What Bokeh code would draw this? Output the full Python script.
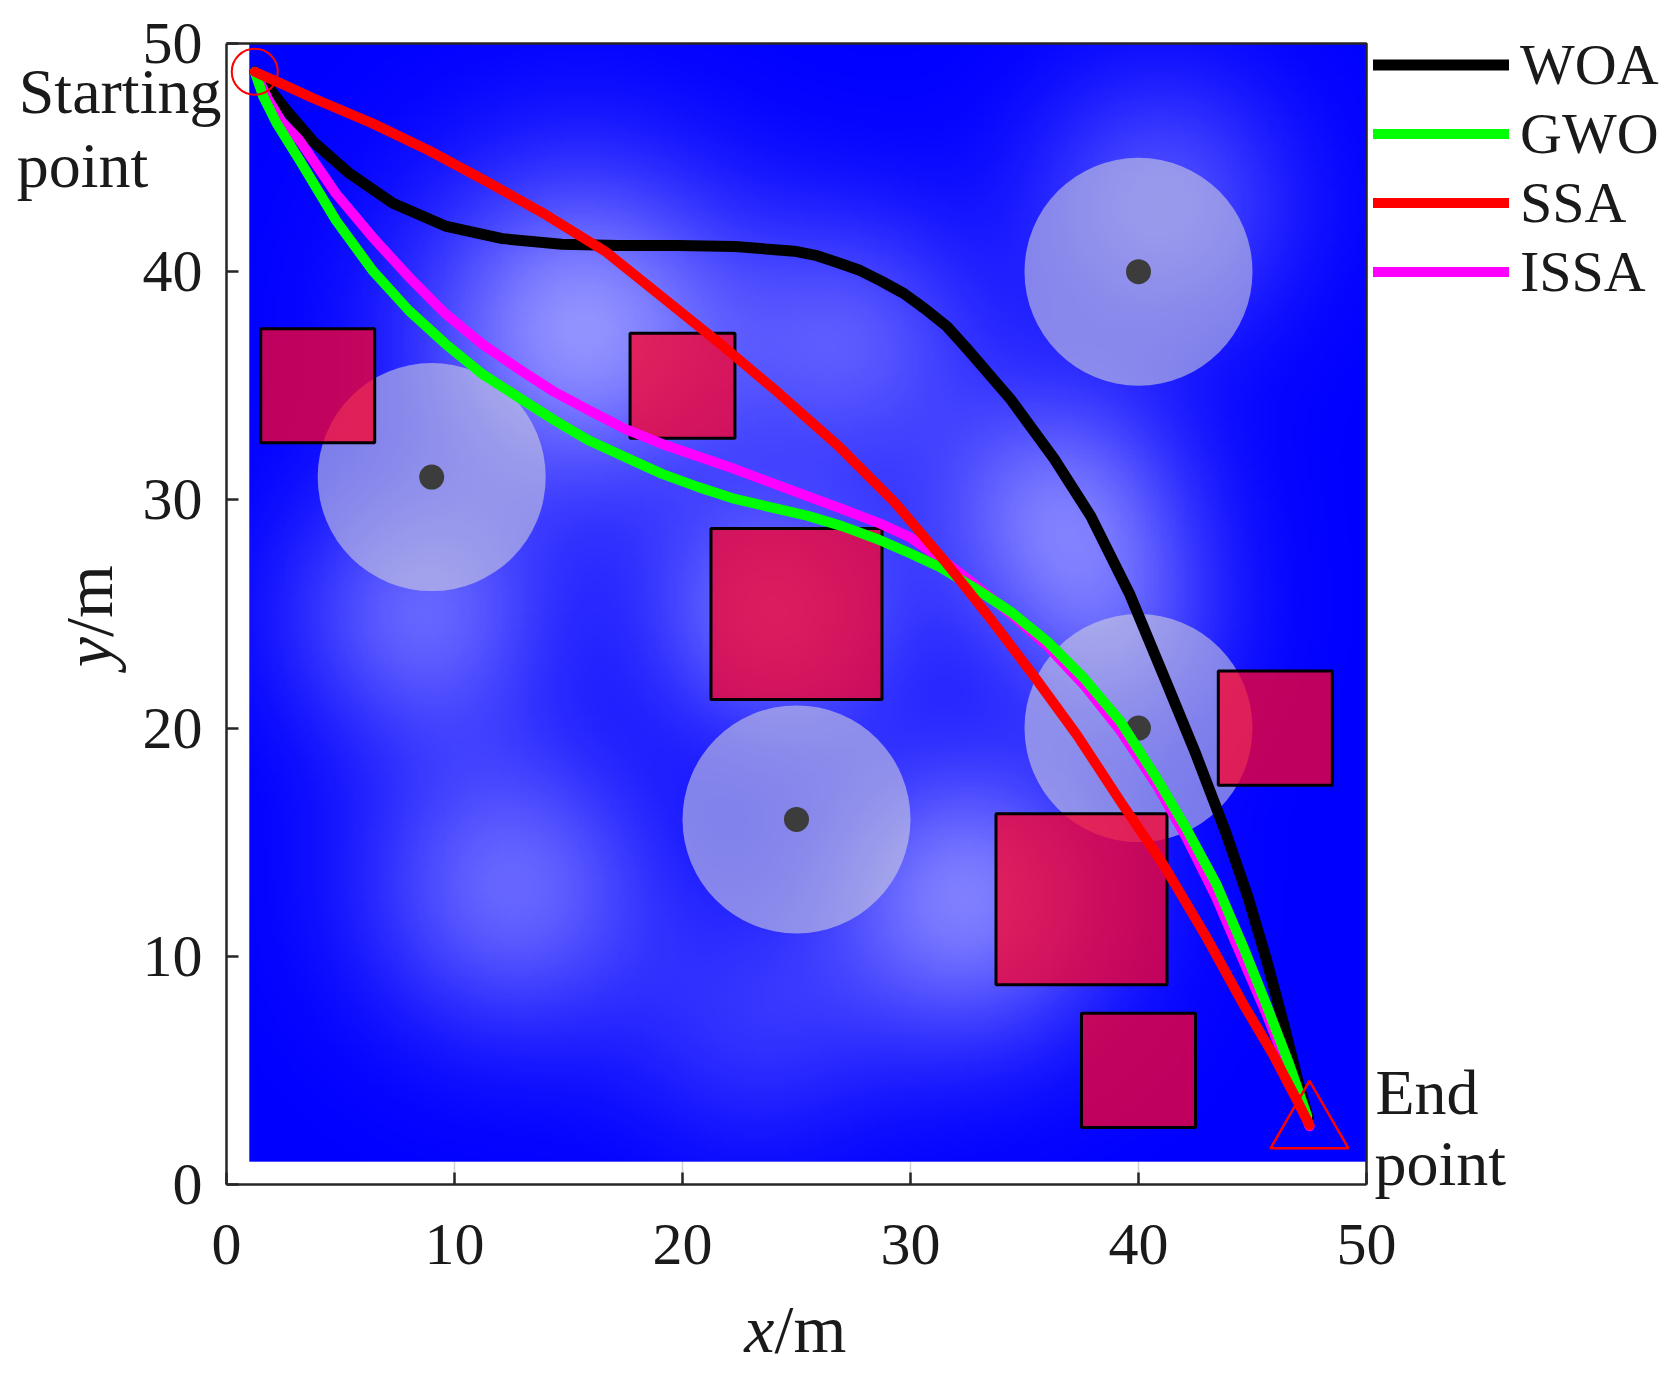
import numpy as np
from bokeh.plotting import figure
from bokeh.models import Legend, LegendItem, Range1d, FixedTicker
from bokeh.core.properties import value
from bokeh.embed import file_html
from bokeh.resources import INLINE

# ---------------- data ----------------
x_ticks = [0, 10, 20, 30, 40, 50]
y_ticks = [0, 10, 20, 30, 40, 50]

start_pt = (1.24, 48.76)
end_pt = (47.5, 2.57)

# threat zones (circles)
zone_x = [9, 40, 40, 25]
zone_y = [31, 40, 20, 16]
zone_r = [5, 5, 5, 5]

# obstacles (squares)
obs_x = [4, 20, 25, 46, 37.5, 40]
obs_y = [35, 35, 25, 20, 12.5, 5]
obs_size = [5, 4.6, 7.5, 5, 7.5, 5]

# terrain glow spots (background)
glow_x = [15.5, 27.5, 36.5, 32.5, 12.5, 8.5, 24, 41, 23, 39]
glow_y = [37.5, 37, 29.5, 12.5, 13, 25, 25, 43, 7, 24]
glow_r = [5.0, 4.0, 4.0, 4.5, 4.5, 4.0, 4.0, 4.0, 4.0, 3.5]
glow_a = [0.6, 0.33, 0.46, 0.52, 0.42, 0.4, 0.45, 0.32, 0.18, 0.25]

woa_x = [1.24, 1.9, 2.6, 3.8, 5.4, 7.3, 9.6, 12.1, 14.7, 17.2, 19.8, 22.3, 24.9, 25.9,
         26.8, 27.8, 28.7, 29.7, 30.6, 31.6, 32.5, 34.4, 36.3, 37.9, 39.6, 41.1, 42.5,
         43.8, 44.8, 45.6, 46.4, 47.0, 47.45]
woa_y = [48.76, 48.0, 47.1, 45.7, 44.3, 43.0, 42.0, 41.45, 41.2, 41.15, 41.15, 41.1, 40.9,
         40.7, 40.4, 40.05, 39.6, 39.05, 38.4, 37.6, 36.6, 34.4, 31.8, 29.3, 25.9, 22.3,
         18.9, 15.5, 12.6, 9.9, 6.9, 4.5, 2.9]

gwo_x = [1.24, 1.6, 2.2, 3.2, 4.8, 6.4, 8.0, 9.6, 11.2, 12.8, 14.4, 15.9, 17.5, 19.1, 20.7,
         22.3, 25.5, 27.0, 28.5, 30.0, 31.3, 32.8, 34.4, 36.0, 37.6, 39.2, 40.8, 42.1, 43.4,
         44.6, 45.6, 46.6, 47.4]
gwo_y = [48.76, 47.7, 46.5, 44.9, 42.25, 40.06, 38.3, 36.84, 35.53, 34.5, 33.48, 32.6,
         31.87, 31.14, 30.56, 30.04, 29.3, 28.85, 28.3, 27.65, 27.05, 26.15, 25.1, 23.8,
         22.2, 20.3, 17.8, 15.6, 13.2, 10.4, 7.9, 5.3, 3.0]

ssa_x = [1.24, 2.5, 3.8, 6.4, 8.9, 11.5, 14.0, 16.6, 19.1, 21.7, 24.2, 26.8, 29.3, 31.6,
         33.5, 35.4, 37.3, 39.2, 41.1, 43.0, 44.6, 45.9, 47.0, 47.5]
ssa_y = [48.76, 48.2, 47.6, 46.5, 45.3, 43.9, 42.5, 40.9, 38.9, 36.8, 34.7, 32.4, 29.9,
         27.2, 24.8, 22.3, 19.7, 16.8, 14.0, 10.8, 7.9, 5.7, 3.6, 2.6]

issa_x = [1.24, 1.8, 2.4, 3.2, 4.8, 6.4, 8.0, 9.6, 11.2, 12.8, 14.4, 15.9, 17.5, 19.1, 20.7,
          22.3, 25.0, 27.0, 28.7, 30.0, 31.3, 32.8, 34.4, 36.0, 37.6, 39.2, 40.8, 42.1,
          43.4, 44.6, 45.6, 46.6, 47.5]
issa_y = [48.76, 47.6, 46.6, 45.76, 43.42, 41.52, 39.77, 38.16, 36.84, 35.75, 34.72, 33.92,
          33.1, 32.45, 31.9, 31.35, 30.34, 29.6, 28.95, 28.35, 27.45, 26.3, 25.0, 23.6,
          21.9, 19.9, 17.5, 15.2, 12.6, 9.8, 7.5, 5.0, 2.55]

series_names = ["WOA", "GWO", "SSA", "ISSA"]
series_colors = ["#000000", "#00FF00", "#FF0000", "#FF00FF"]

# ---------------- layout geometry (pixels) ----------------
W, H = 1670, 1376
LEFT, TOP = 226, 43          # canvas px to the x=0 axis / y=top axis
BOX_W, BOX_H = 1140, 1141    # px spanned by the 0..50 axes
x0, x1 = x_ticks[0], x_ticks[-1]
y0, y1 = y_ticks[0], y_ticks[-1]
x_end = x0 + (x1 - x0) * (W - LEFT) / BOX_W       # frame extends right (legend area)
y_end = y1 + (y1 - y0) * TOP / BOX_H              # frame extends to canvas top

FONT = "Liberation Serif"
TXT = "#1a1a1a"
AX = "#262626"

p = figure(width=W, height=H, x_range=Range1d(x0, x_end), y_range=Range1d(y0, y_end),
           output_backend="svg", toolbar_location=None,
           min_border_left=LEFT, min_border_right=0, min_border_top=0,
           min_border_bottom=H - TOP - BOX_H)
p.background_fill_color = "white"
p.border_fill_color = "white"
p.outline_line_color = None

p.xaxis.ticker = FixedTicker(ticks=x_ticks)
p.yaxis.ticker = FixedTicker(ticks=y_ticks)
p.xaxis.bounds = (x0, x1)
p.yaxis.bounds = (y0, y1)
for ax in (p.xaxis, p.yaxis):
    ax.major_tick_in = 12
    ax.major_tick_out = 0
    ax.minor_tick_line_color = None
    ax.axis_line_width = 2.5
    ax.axis_line_color = AX
    ax.major_tick_line_width = 2.5
    ax.major_tick_line_color = AX
    ax.major_label_text_font = FONT
    ax.major_label_text_font_size = "60px"
    ax.major_label_text_color = TXT
p.xaxis.major_label_standoff = 40
p.yaxis.major_label_standoff = 24
p.xgrid.grid_line_color = "#D0D0D0"
p.xgrid.grid_line_width = 1.5
p.xgrid.level = "image"
p.ygrid.visible = False

# white band above the axes box (hides the grid there)
p.quad(left=x0, right=x_end, bottom=y1, top=y_end, fill_color="white", line_alpha=0,
       level="underlay")

# background terrain image
N = 300
gx = np.linspace(1, 50, N)
GX, GY = np.meshgrid(gx, gx)
L = np.zeros_like(GX)
for cx, cy, r, a in zip(glow_x, glow_y, glow_r, glow_a):
    L += a * np.exp(-((GX - cx) ** 2 + (GY - cy) ** 2) / (2 * r * r))
L = np.clip(L, 0, 0.62)
img = np.empty((N, N), dtype=np.uint32)
view = img.view(dtype=np.uint8).reshape((N, N, 4))
view[..., 0] = (255 * L * 0.95).astype(np.uint8)
view[..., 1] = (255 * L * 0.95).astype(np.uint8)
view[..., 2] = 255
view[..., 3] = 255
p.image_rgba(image=[img], x=1, y=1, dw=49, dh=49)

# threat zones
p.circle(x=zone_x, y=zone_y, radius=zone_r, fill_color="#D8D8DC", fill_alpha=0.55,
         line_alpha=0)
p.scatter(x=zone_x, y=zone_y, size=25, fill_color="#3C3C3C", line_alpha=0)

# obstacles
p.rect(x=obs_x, y=obs_y, width=obs_size, height=obs_size, fill_color="#FF0028",
       fill_alpha=0.75, line_color="#000000", line_width=3)

# paths
lw = {"WOA": 11, "GWO": 10, "SSA": 10, "ISSA": 10}
data = {"WOA": (woa_x, woa_y), "GWO": (gwo_x, gwo_y), "SSA": (ssa_x, ssa_y),
        "ISSA": (issa_x, issa_y)}
colors = dict(zip(series_names, series_colors))
renderers = {}
for name in ["WOA", "ISSA", "GWO", "SSA"]:
    xs, ys = data[name]
    renderers[name] = p.line(xs, ys, line_color=colors[name], line_width=lw[name],
                             line_cap="round", line_join="round")

# start / end markers
p.scatter(x=[start_pt[0]], y=[start_pt[1]], marker="circle", size=46,
          fill_alpha=0, line_color="#FF0000", line_width=2)
p.scatter(x=[end_pt[0]], y=[end_pt[1]], marker="triangle", size=78,
          fill_alpha=0, line_color="#FF0000", line_width=2.5)

# top and right edges of the axes box
p.line(x=[x0, x1, x1], y=[y1, y1, y0], line_color=AX, line_width=2.5, level="overlay")

# legend (right of the axes box)
items = [LegendItem(label=n, renderers=[renderers[n]]) for n in series_names]
legend = Legend(items=items, location=(1147, 878), glyph_width=136, glyph_height=69,
                label_height=69, spacing=0, padding=0, margin=0, label_standoff=11,
                label_text_font=FONT, label_text_font_size="58px",
                label_text_color=TXT, border_line_alpha=0, background_fill_alpha=0)
p.add_layout(legend, "center")


# free texts (overlay level so they may sit outside the frame)
def add_text(x, y, text, xo, yo, size="64px", style="normal", align="left", angle=0.0):
    p.text(x=[x], y=[y], text=[text], x_offset=xo, y_offset=yo, angle=angle,
           text_font=value(FONT), text_font_size=size, text_color=TXT,
           text_font_style=style, text_align=align, text_baseline="alphabetic",
           level="overlay")


add_text(start_pt[0], start_pt[1], "Starting", -236, 20)
add_text(start_pt[0], start_pt[1], "point", -238, 94)
add_text(end_pt[0], end_pt[1], "End", 66, -33)
add_text(end_pt[0], end_pt[1], "point", 65, 38)

xmid = (x0 + x1) / 2
ymid = (y0 + y1) / 2
add_text(xmid, y0, "x", -22, 144, size="68px", style="italic", align="right")
add_text(xmid, y0, "/m", -22, 144, size="68px", align="left")
add_text(x0, ymid, "y", -138, 23, size="68px", style="italic", align="right",
         angle=np.pi / 2)
add_text(x0, ymid, "/m", -138, 23, size="68px", align="left", angle=np.pi / 2)

open("out.html", "w").write(file_html(p, INLINE))
